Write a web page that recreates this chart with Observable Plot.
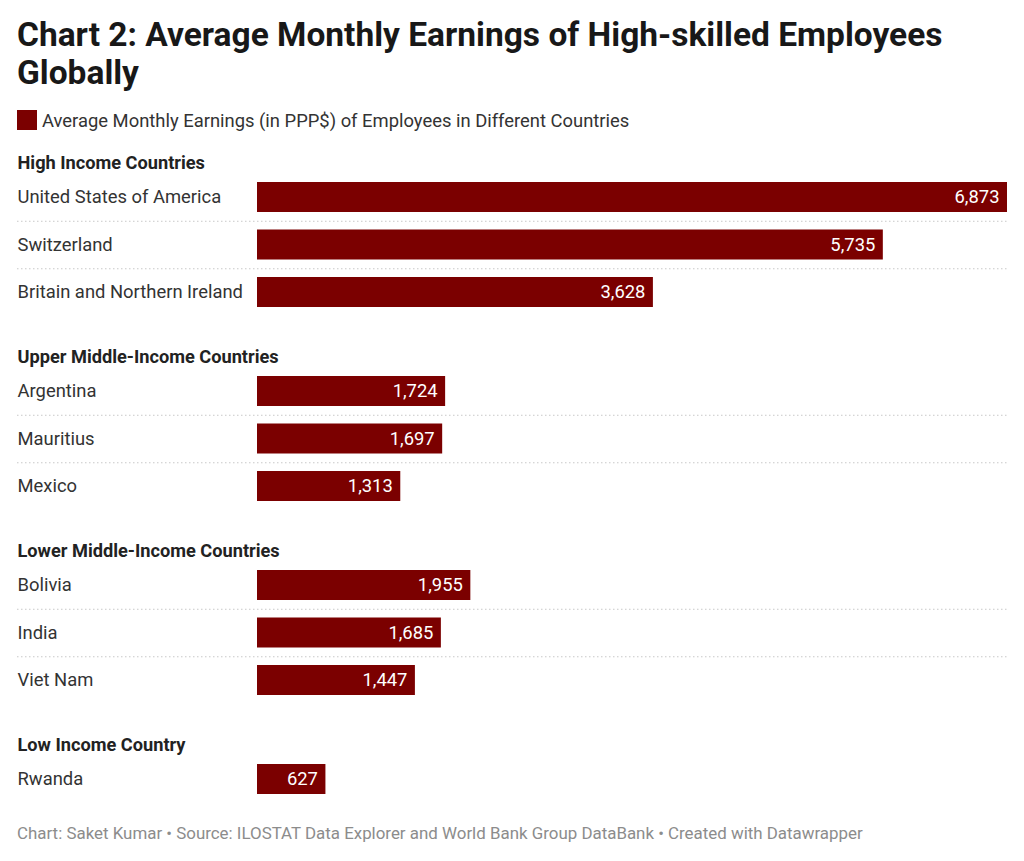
<!DOCTYPE html>
<html>
<head>
<meta charset="utf-8">
<script src="https://cdn.jsdelivr.net/npm/d3@7"></script>
<script src="https://cdn.jsdelivr.net/npm/@observablehq/plot@0.6"></script>
<style>
  html, body { margin: 0; padding: 0; background: #fff; }
  body { width: 1024px; height: 861px; position: relative; font-family: Roboto, "Noto Sans", sans-serif; overflow: hidden; }
  #title { position: absolute; left: 17px; top: 16px; width: 990px; font-size: 33.5px; line-height: 38px; font-weight: 700; color: #181818; }
  #legend { position: absolute; left: 17px; top: 110px; height: 20px; display: flex; align-items: center; font-size: 18.4px; color: #333; }
  #legend .sw { width: 20px; height: 20px; background: #7b0000; margin-right: 5px; flex: none; }
  #chart { position: absolute; left: 0; top: 140px; }
  #footer { position: absolute; left: 17px; top: 822px; font-size: 16.9px; line-height: 22px; color: #8c8c8c; white-space: nowrap; }
</style>
</head>
<body>
<div id="title">Chart 2: Average Monthly Earnings of High-skilled Employees Globally</div>
<div id="legend"><div class="sw"></div><span>Average Monthly Earnings (in PPP$) of Employees in Different Countries</span></div>
<div id="chart"></div>
<div id="footer">Chart: Saket Kumar • Source: ILOSTAT Data Explorer and World Bank Group DataBank • Created with Datawrapper</div>
<script>
const groups = ["High Income Countries", "Upper Middle-Income Countries", "Lower Middle-Income Countries", "Low Income Country"];
const countries = [
  ["United States of America", "Switzerland", "Britain and Northern Ireland"],
  ["Argentina", "Mauritius", "Mexico"],
  ["Bolivia", "India", "Viet Nam"],
  ["Rwanda"]
];
const earnings = [
  [6873, 5735, 3628],
  [1724, 1697, 1313],
  [1955, 1685, 1447],
  [627]
];
const barColor = "#7b0000";

// layout (pixels within the SVG)
const firstHeader = 23, headerToRow = 34, rowStep = 47.5, rowToHeader = 65, barH = 30;
const H = 660;
const headerRows = [], rows = [], seps = [];
let pos = firstHeader;
groups.forEach((g, gi) => {
  headerRows.push({ label: g, pos });
  let p = pos + headerToRow;
  countries[gi].forEach((c, i) => {
    rows.push({ country: c, value: earnings[gi][i], pos: p });
    if (i < countries[gi].length - 1) seps.push({ pos: p + rowStep / 2 });
    p += rowStep;
  });
  pos = p - rowStep + rowToHeader;
});

const chart = Plot.plot({
  width: 1024,
  height: H,
  marginLeft: 17,
  marginRight: 17,
  marginTop: 0,
  marginBottom: 0,
  style: { fontFamily: "Roboto, 'Noto Sans', sans-serif", fontSize: "18.4px", background: "transparent" },
  x: { domain: [0, 6873], range: [257, 1007], axis: null },
  y: { type: "linear", domain: [0, H], range: [0, H], axis: null },
  marks: [
    Plot.ruleY(seps, { y: "pos", stroke: "#c8c8c8", strokeDasharray: "1.5,2.5", strokeWidth: 1 }),
    Plot.rect(rows, { x1: 0, x2: "value", y1: d => d.pos - barH / 2, y2: d => d.pos + barH / 2, fill: barColor }),
    Plot.text(rows, { y: "pos", text: "country", frameAnchor: "left", textAnchor: "start", fill: "#333", fontSize: 18.4 }),
    Plot.text(headerRows, { y: "pos", text: "label", frameAnchor: "left", textAnchor: "start", fill: "#222", fontWeight: "bold", fontSize: 18.2 }),
    Plot.text(rows, { x: "value", y: "pos", text: d => d3.format(",")(d.value), textAnchor: "end", dx: -8, fill: "#fff", fontSize: 18.4 })
  ]
});
document.getElementById("chart").appendChild(chart);
</script>
</body>
</html>
